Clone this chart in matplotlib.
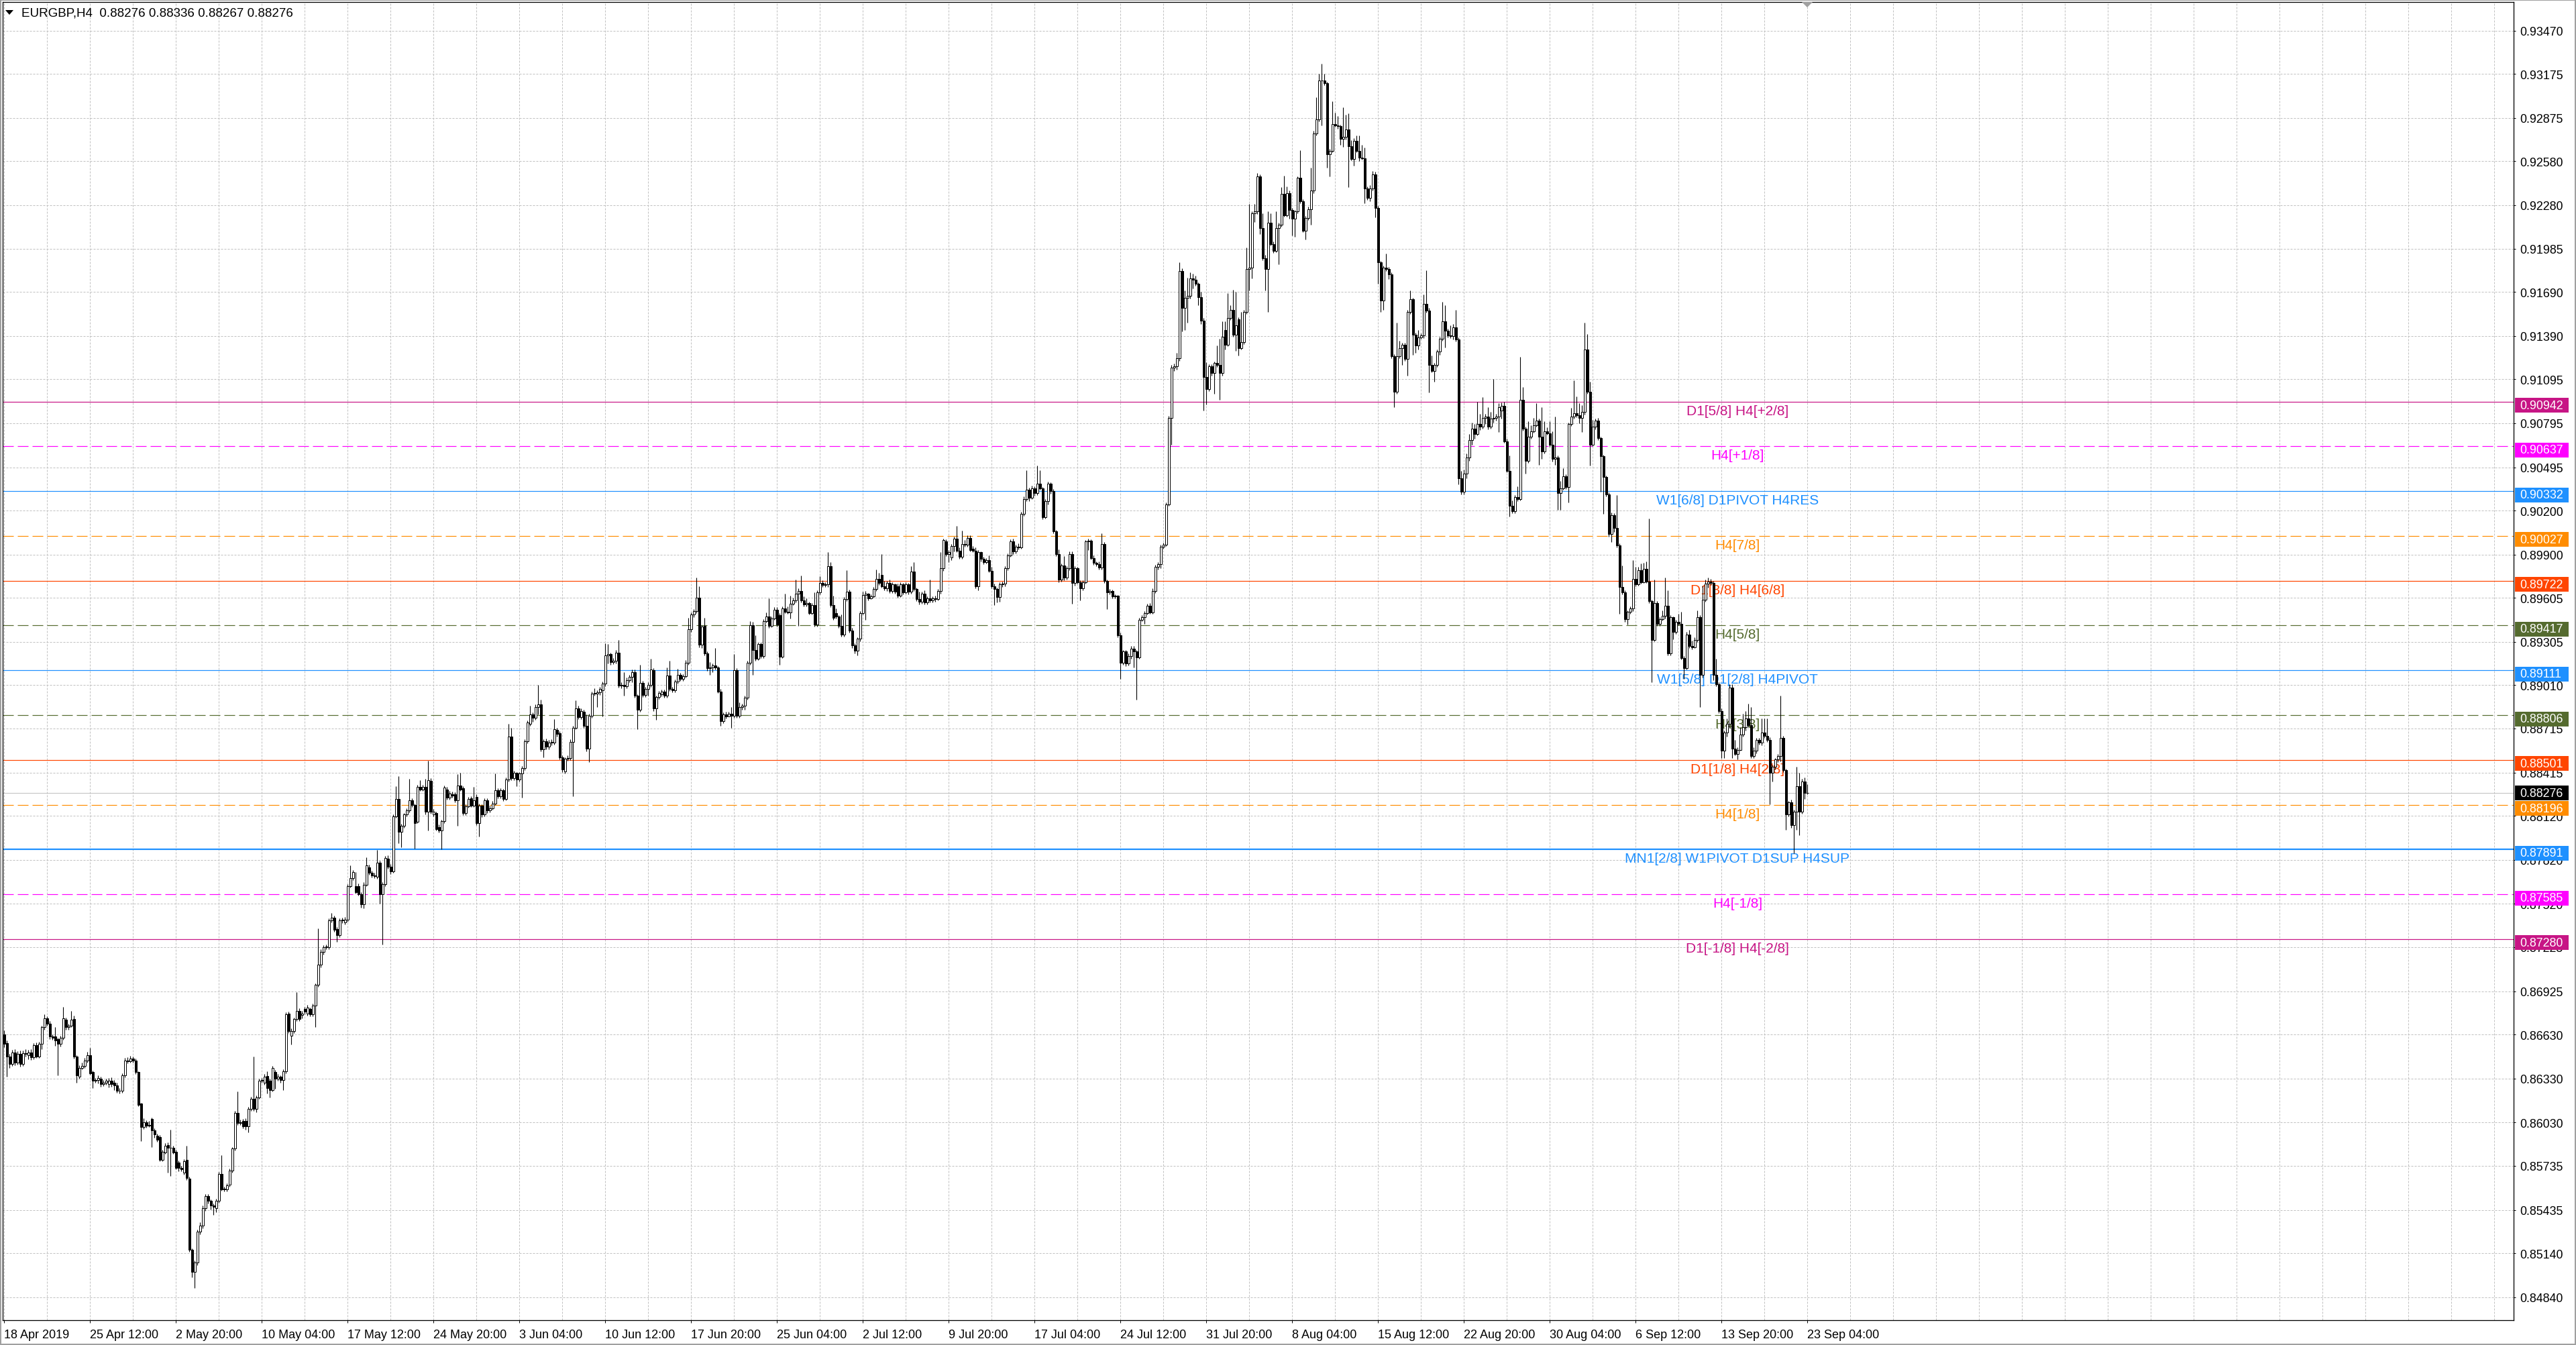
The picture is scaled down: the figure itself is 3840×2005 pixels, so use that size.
import numpy as np
import matplotlib
matplotlib.use("Agg")
import matplotlib.pyplot as plt
from matplotlib import transforms
from matplotlib.patches import Rectangle, Polygon

plt.rcParams['font.family'] = ['Liberation Sans', 'DejaVu Sans']
plt.rcParams['lines.scale_dashes'] = False

W, H, DPI = 3840, 2006, 100
PX = 72 / DPI  # points per pixel

symbol = "EURGBP,H4"

# H4 bars, prices in 1e-5 units
opens = [
    86629, 86570, 86479, 86428, 86509, 86441, 86499, 86428, 86504, 86490,
    86509, 86474, 86559, 86479, 86566, 86679, 86742, 86704, 86616, 86616,
    86599, 86566, 86609, 86729, 86679, 86692, 86734, 86479, 86341, 86404,
    86416, 86454, 86491, 86373, 86316, 86320, 86328, 86291, 86303, 86291,
    86316, 86303, 86283, 86248, 86245, 86353, 86454, 86449, 86466, 86454,
    86373, 86158, 85998, 86033, 86008, 86053, 85978, 85940, 85933, 85777,
    85827, 85878, 85857, 85857, 85832, 85757, 85722, 85690, 85777, 85647,
    85164, 85013, 85076, 85289, 85327, 85447, 85527, 85497, 85464, 85447,
    85497, 85682, 85577, 85577, 85607, 85702, 85852, 86098, 86028, 86040,
    86040, 86003, 86123, 86191, 86123, 86203, 86316, 86303, 86348, 86316,
    86253, 86373, 86328, 86341, 86321, 86378, 86774, 86620, 86654, 86734,
    86792, 86762, 86804, 86774, 86804, 86767, 86829, 86967, 87105, 87193,
    87225, 87223, 87406, 87426, 87350, 87305, 87406, 87393, 87413, 87643,
    87694, 87640, 87643, 87586, 87517, 87652, 87767, 87733, 87713, 87704,
    87800, 87588, 87655, 87829, 87775, 87742, 88118, 88234, 88012, 88050,
    88128, 88157, 88224, 88195, 88080, 88315, 88301, 88315, 88147, 88359,
    88128, 88140, 88045, 88022, 88083, 88301, 88243, 88269, 88269, 88224,
    88326, 88307, 88141, 88186, 88238, 88191, 88249, 88070, 88190, 88128,
    88224, 88157, 88172, 88205, 88296, 88253, 88296, 88234, 88369, 88658,
    88378, 88411, 88369, 88407, 88446, 88629, 88745, 88812, 88790, 88860,
    88880, 88571, 88629, 88590, 88619, 88619, 88706, 88681, 88519, 88423,
    88508, 88513, 88623, 88720, 88851, 88793, 88828, 88735, 88577, 88802,
    88953, 88953, 88960, 88976, 89020, 89213, 89221, 89169, 89175, 89232,
    89009, 89014, 89001, 89043, 89067, 89101, 88937, 88841, 89024, 88943,
    88986, 89014, 89111, 88851, 88928, 88947, 88966, 88937, 89078, 88986,
    88976, 89034, 89082, 89053, 89072, 89165, 89390, 89491, 89516, 89606,
    89284, 89414, 89227, 89124, 89130, 89144, 89130, 88966, 88764, 88812,
    88797, 88815, 88802, 89111, 88802, 88860, 88870, 88924, 89163, 89420,
    89250, 89188, 89289, 89210, 89446, 89479, 89413, 89463, 89523, 89485,
    89206, 89533, 89512, 89507, 89566, 89588, 89632, 89654, 89588, 89560,
    89570, 89501, 89555, 89424, 89643, 89708, 89691, 89697, 89822, 89555,
    89500, 89479, 89413, 89354, 89599, 89647, 89381, 89282, 89245, 89326,
    89501, 89625, 89632, 89603, 89616, 89665, 89734, 89763, 89686, 89669,
    89708, 89654, 89697, 89686, 89621, 89697, 89643, 89697, 89647, 89785,
    89665, 89599, 89577, 89632, 89573, 89603, 89588, 89600, 89599, 89654,
    89806, 89992, 89905, 89880, 89959, 90010, 89926, 89883, 89970, 89966,
    90014, 89940, 89925, 89686, 89916, 89870, 89850, 89861, 89791, 89686,
    89665, 89610, 89697, 89700, 89806, 89896, 89992, 89922, 89953, 89948,
    90178, 90280, 90341, 90287, 90352, 90320, 90385, 90352, 90156, 90265,
    90381, 90331, 90058, 89905, 89730, 89826, 89741, 89806, 89905, 89708,
    89806, 89712, 89669, 89712, 89988, 89995, 89878, 89843, 89835, 89813,
    89970, 89719, 89643, 89654, 89616, 89618, 89348, 89162, 89239, 89158,
    89210, 89260, 89239, 89201, 89457, 89472, 89501, 89551, 89507, 89654,
    89817, 89835, 89953, 89966, 90243, 90833, 91176, 91182, 91237, 91831,
    91579, 91650, 91661, 91780, 91772, 91743, 91655, 91495, 91111, 91029,
    91181, 91135, 91204, 91192, 91135, 91429, 91331, 91514, 91568, 91397,
    91503, 91307, 91347, 91552, 91846, 91857, 92226, 92238, 92478, 92123,
    91919, 91846, 92161, 92017, 91971, 92123, 92148, 92357, 92213, 92364,
    92249, 92189, 92238, 92466, 92308, 92107, 92193, 92254, 92380, 92769,
    92863, 93128, 93131, 93112, 92625, 92651, 92834, 92826, 92818, 92733,
    92744, 92798, 92684, 92597, 92720, 92651, 92605, 92600, 92396, 92331,
    92393, 92488, 92262, 91890, 91633, 91857, 91846, 91808, 91253, 91008,
    91253, 91307, 91331, 91233, 91552, 91642, 91397, 91323, 91380, 91393,
    91609, 91563, 91192, 91151, 91192, 91282, 91372, 91487, 91426, 91393,
    91388, 91446, 91364, 90420, 90330, 90450, 90560, 90680, 90760, 90720,
    90792, 90770, 90833, 90841, 90770, 90825, 90833, 90841, 90880, 90912,
    90672, 90471, 90231, 90194, 90293, 90280, 90954, 90758, 90537, 90702,
    90741, 90783, 90814, 90702, 90604, 90741, 90728, 90648, 90550, 90560,
    90317, 90349, 90432, 90359, 90790, 90839, 90863, 90850, 90832, 90873,
    91297, 91010, 90648, 90770, 90814, 90692, 90569, 90427, 90310, 90040,
    90170, 90080, 89962, 89679, 89643, 89459, 89509, 89533, 89736, 89697,
    89795, 89712, 89802, 89717, 89582, 89320, 89570, 89427, 89459, 89484,
    89550, 89227, 89472, 89373, 89442, 89430, 89197, 89128, 89354, 89276,
    89270, 89320, 89472, 89080, 89594, 89704, 89717, 89708, 89080, 89018,
    88834, 88565, 88687, 88749, 88994, 88577, 88541, 88570, 88675, 88724,
    88785, 88736, 88528, 88565, 88638, 88619, 88687, 88663, 88638, 88413,
    88455, 88504, 88528, 88651, 88431, 88129, 88210, 88055, 88148, 88320,
    88148, 88356, 88276,
]
highs = [
    86660, 86590, 86500, 86525, 86530, 86515, 86520, 86520, 86530, 86525,
    86530, 86570, 86575, 86580, 86690, 86767, 86755, 86720, 86630, 86679,
    86610, 86620, 86817, 86745, 86705, 86792, 86760, 86490, 86420, 86440,
    86470, 86510, 86541, 86385, 86335, 86350, 86345, 86320, 86330, 86335,
    86340, 86320, 86300, 86265, 86365, 86470, 86475, 86485, 86480, 86465,
    86380, 86165, 86060, 86045, 86040, 86065, 85990, 85955, 85945, 85845,
    85890, 85895, 85983, 85870, 85845, 85770, 85735, 85780, 85872, 85660,
    85175, 85090, 85300, 85350, 85465, 85545, 85545, 85505, 85480, 85510,
    85695, 85810, 85595, 85615, 85715, 85865, 86110, 86241, 86050, 86055,
    86060, 86135, 86205, 86479, 86215, 86330, 86335, 86360, 86380, 86330,
    86415, 86390, 86360, 86350, 86395, 86780, 86785, 86670, 86745, 86917,
    86810, 86790, 86820, 86830, 86815, 86840, 86980, 87355, 87210, 87240,
    87245, 87420, 87460, 87440, 87360, 87420, 87425, 87430, 87655, 87781,
    87750, 87735, 87660, 87600, 87670, 87839, 87785, 87745, 87730, 87887,
    87815, 87670, 87845, 87850, 87790, 88130, 88321, 88392, 88065, 88140,
    88170, 88373, 88240, 88205, 88330, 88365, 88330, 88370, 88494, 88375,
    88165, 88150, 88060, 88095, 88325, 88315, 88290, 88285, 88280, 88403,
    88411, 88320, 88200, 88250, 88255, 88315, 88265, 88205, 88200, 88240,
    88240, 88190, 88220, 88407, 88310, 88310, 88305, 88380, 88745, 88720,
    88425, 88420, 88420, 88460, 88640, 88770, 88870, 88825, 88880, 89014,
    88910, 88640, 88645, 88635, 88640, 88777, 88720, 88695, 88530, 88520,
    88530, 88640, 88735, 88905, 88870, 88850, 88845, 88810, 88815, 88965,
    88990, 88975, 89000, 89035, 89294, 89290, 89230, 89195, 89250, 89317,
    89030, 89097, 89060, 89080, 89115, 89115, 88950, 89149, 89040, 89000,
    89030, 89188, 89125, 88940, 88970, 88980, 88980, 89130, 89175, 89000,
    89050, 89121, 89095, 89085, 89180, 89468, 89505, 89530, 89741, 89683,
    89420, 89468, 89240, 89169, 89160, 89265, 89140, 88985, 88825, 88830,
    88830, 88860, 89221, 89125, 88895, 88885, 88940, 89175, 89448, 89440,
    89348, 89300, 89300, 89460, 89507, 89603, 89480, 89540, 89540, 89500,
    89545, 89632, 89545, 89621, 89605, 89730, 89670, 89756, 89615, 89600,
    89580, 89570, 89643, 89655, 89752, 89725, 89710, 89916, 89850, 89620,
    89535, 89485, 89490, 89610, 89795, 89660, 89400, 89295, 89335, 89515,
    89645, 89650, 89640, 89630, 89680, 89800, 89775, 89901, 89720, 89720,
    89730, 89710, 89700, 89700, 89710, 89705, 89710, 89705, 89822, 89850,
    89675, 89645, 89645, 89655, 89615, 89730, 89615, 89620, 89665, 89916,
    90010, 90005, 89930, 89970, 90020, 90097, 89950, 90062, 90000, 90030,
    90030, 89960, 89950, 89930, 89920, 89885, 89875, 89895, 89815, 89700,
    89675, 89710, 89715, 89820, 89910, 90005, 90010, 89965, 89975, 90190,
    90295, 90473, 90355, 90370, 90365, 90505, 90473, 90360, 90280, 90395,
    90390, 90345, 90070, 89935, 89840, 89890, 89820, 89920, 89920, 89820,
    89815, 89725, 89725, 90000, 90010, 90005, 89895, 89855, 89855, 90047,
    89985, 89730, 89665, 89660, 89630, 89625, 89370, 89250, 89250, 89225,
    89275, 89275, 89250, 89470, 89485, 89515, 89565, 89570, 89670, 89830,
    89850, 89965, 89980, 90255, 90845, 91190, 91200, 91276, 91892, 91850,
    91699, 91785, 91821, 91813, 91800, 91755, 91690, 91510, 91209, 91195,
    91195, 91215, 91323, 91372, 91487, 91491, 91682, 91601, 91706, 91690,
    91515, 91552, 91565, 91993, 92287, 92240, 92287, 92499, 92490, 92226,
    91940, 92238, 92226, 92035, 92238, 92160, 92401, 92483, 92406, 92380,
    92260, 92250, 92478, 92654, 92320, 92205, 92270, 92537, 92785, 93014,
    93174, 93246, 93174, 93120, 92665, 92989, 92912, 92886, 92830, 92945,
    92896, 92907, 92723, 92735, 92756, 92756, 92690, 92674, 92410, 92417,
    92511, 92507, 92275, 91900, 91870, 91949, 91860, 91825, 91265, 91478,
    91356, 91345, 91345, 91565, 91699, 91650, 91410, 91429, 91405, 91674,
    91837, 91580, 91258, 91205, 91295, 91385, 91622, 91601, 91440, 91462,
    91470, 91568, 91380, 90470, 90480, 90590, 90720, 90800, 90790, 90942,
    90860, 90972, 90860, 90906, 90874, 91094, 90860, 90930, 90937, 90942,
    90690, 90574, 90268, 90305, 90366, 91248, 91040, 90770, 90807, 90783,
    90832, 90930, 90825, 90905, 90807, 90765, 90807, 90741, 90839, 90575,
    90403, 90488, 90445, 90800, 90898, 91089, 90979, 90930, 90917, 91481,
    91403, 91077, 90819, 90825, 90830, 90705, 90580, 90440, 90322, 90185,
    90180, 90305, 89975, 89827, 89655, 89520, 89545, 89864, 89815, 89815,
    89839, 89844, 89851, 90145, 89594, 89729, 89582, 89472, 89521, 89741,
    89655, 89485, 89480, 89455, 89496, 89509, 89210, 89373, 89386, 89312,
    89335, 89521, 89485, 89687, 89729, 89741, 89736, 89720, 89190, 89030,
    88850, 88700, 88785, 89018, 89018, 88638, 88585, 88724, 88815, 88834,
    88882, 88859, 88589, 88651, 88650, 88785, 88785, 88785, 88655, 88470,
    88516, 88540, 88937, 88663, 88440, 88222, 88230, 88160, 88455, 88413,
    88374, 88381, 88336,
]
lows = [
    86545, 86341, 86400, 86415, 86420, 86425, 86410, 86415, 86480, 86460,
    86455, 86460, 86470, 86470, 86530, 86665, 86690, 86600, 86595, 86554,
    86353, 86550, 86595, 86665, 86665, 86680, 86465, 86303, 86330, 86395,
    86400, 86440, 86355, 86266, 86300, 86295, 86275, 86280, 86290, 86270,
    86275, 86250, 86235, 86230, 86235, 86340, 86435, 86440, 86440, 86360,
    86140, 85903, 85985, 85995, 85998, 85865, 85925, 85900, 85765, 85765,
    85815, 85690, 85665, 85815, 85710, 85700, 85700, 85675, 85640, 85150,
    84976, 84901, 85060, 85270, 85310, 85430, 85480, 85440, 85400, 85420,
    85485, 85565, 85560, 85560, 85595, 85690, 85840, 86015, 86015, 85990,
    85980, 85965, 86110, 86110, 86100, 86190, 86300, 86290, 86230, 86200,
    86240, 86260, 86315, 86300, 86250, 86365, 86640, 86560, 86640, 86720,
    86720, 86740, 86770, 86760, 86755, 86755, 86679, 86955, 87090, 87175,
    87210, 87210, 87395, 87330, 87260, 87295, 87390, 87380, 87400, 87630,
    87680, 87590, 87575, 87495, 87492, 87640, 87720, 87700, 87695, 87690,
    87521, 87241, 87640, 87760, 87725, 87730, 88105, 87935, 87906, 88040,
    88115, 88145, 88180, 87897, 88070, 88290, 88290, 88130, 88022, 88135,
    88115, 88020, 88005, 87891, 88070, 88230, 88230, 88245, 88210, 88050,
    88290, 88125, 88125, 88175, 88180, 88180, 88055, 87979, 88110, 88115,
    88140, 88145, 88160, 88195, 88240, 88240, 88220, 88225, 88355, 88365,
    88365, 88320, 88355, 88243, 88430, 88615, 88735, 88760, 88775, 88810,
    88560, 88519, 88575, 88575, 88600, 88605, 88660, 88505, 88420, 88410,
    88495, 88500, 88253, 88710, 88780, 88780, 88720, 88560, 88488, 88790,
    88940, 88860, 88945, 88797, 89005, 89160, 89150, 89155, 89160, 88995,
    88990, 88937, 88990, 89030, 89030, 88925, 88712, 88830, 88930, 88930,
    88940, 89000, 88835, 88774, 88915, 88935, 88925, 88925, 88970, 88960,
    88960, 89020, 89040, 89040, 89060, 89150, 89375, 89475, 89500, 89270,
    89265, 89215, 89110, 89082, 89100, 89115, 88955, 88731, 88750, 88785,
    88795, 88720, 88790, 88790, 88790, 88845, 88845, 88910, 89150, 89079,
    89175, 89180, 89195, 89195, 89435, 89400, 89405, 89455, 89410, 89151,
    89195, 89500, 89495, 89465, 89555, 89575, 89413, 89575, 89545, 89545,
    89490, 89490, 89410, 89410, 89630, 89680, 89680, 89680, 89540, 89455,
    89465, 89400, 89340, 89340, 89585, 89370, 89265, 89225, 89215, 89310,
    89490, 89457, 89590, 89595, 89605, 89650, 89695, 89675, 89655, 89650,
    89640, 89640, 89635, 89605, 89610, 89630, 89635, 89630, 89635, 89650,
    89585, 89560, 89565, 89560, 89560, 89575, 89575, 89580, 89590, 89635,
    89790, 89890, 89850, 89860, 89920, 89915, 89870, 89870, 89955, 89955,
    89920, 89915, 89670, 89655, 89855, 89835, 89840, 89780, 89670, 89555,
    89575, 89580, 89680, 89685, 89795, 89885, 89905, 89910, 89935, 89940,
    90165, 90265, 90265, 90280, 90300, 90305, 90340, 90140, 90145, 90240,
    90315, 90045, 89890, 89710, 89715, 89725, 89730, 89795, 89566, 89690,
    89700, 89590, 89655, 89700, 89930, 89865, 89830, 89820, 89800, 89800,
    89705, 89529, 89630, 89600, 89600, 89335, 89053, 89150, 89140, 89145,
    89190, 89129, 88911, 89190, 89445, 89430, 89490, 89495, 89495, 89640,
    89800, 89805, 89940, 89960, 90230, 90647, 91150, 91160, 91220, 91421,
    91429, 91478, 91645, 91715, 91730, 91600, 91470, 90882, 90923, 91015,
    91120, 90996, 91180, 90955, 91120, 91298, 91320, 91500, 91385, 91290,
    91258, 91295, 91335, 91540, 91699, 91780, 92167, 92221, 92083, 91905,
    91699, 91552, 92005, 91955, 91960, 91878, 92135, 92200, 92200, 92190,
    92074, 92066, 92225, 92295, 92096, 92047, 92180, 92148, 92360, 92755,
    92850, 92826, 93100, 92537, 92478, 92640, 92815, 92800, 92690, 92679,
    92730, 92401, 92585, 92548, 92640, 92581, 92590, 92292, 92315, 92308,
    92380, 92197, 91743, 91552, 91568, 91830, 91775, 91240, 90903, 90995,
    91240, 91192, 91220, 91119, 91540, 91262, 91274, 91295, 91370, 91375,
    91550, 91004, 91140, 91078, 91180, 91262, 91355, 91311, 91380, 91375,
    91364, 91350, 90380, 90310, 90310, 90420, 90540, 90650, 90690, 90710,
    90750, 90760, 90790, 90755, 90760, 90800, 90815, 90734, 90825, 90660,
    90460, 90158, 90180, 90180, 90265, 90270, 90745, 90452, 90525, 90690,
    90730, 90770, 90513, 90550, 90590, 90715, 90635, 90535, 90513, 90207,
    90207, 90340, 90345, 90256, 90775, 90825, 90835, 90795, 90734, 90855,
    90995, 90506, 90640, 90755, 90680, 90329, 90177, 90295, 90023, 89986,
    90055, 89950, 89496, 89630, 89440, 89422, 89495, 89515, 89685, 89690,
    89700, 89705, 89705, 89570, 89030, 89310, 89415, 89415, 89450, 89465,
    89215, 89214, 89324, 89360, 89420, 89185, 89055, 89115, 89265, 89255,
    89265, 89305, 88859, 89060, 89580, 89675, 89695, 89043, 89005, 88820,
    88516, 88516, 88660, 88720, 88516, 88530, 88505, 88565, 88660, 88700,
    88725, 88515, 88515, 88545, 88605, 88600, 88650, 88625, 88197, 88356,
    88435, 88485, 88490, 88420, 88025, 88115, 88040, 87866, 88025, 87988,
    88135, 88234, 88267,
]
closes = [
    86566, 86479, 86428, 86509, 86441, 86499, 86428, 86504, 86500, 86509,
    86474, 86559, 86479, 86566, 86679, 86742, 86704, 86616, 86609, 86591,
    86566, 86609, 86742, 86679, 86692, 86729, 86479, 86353, 86404, 86416,
    86454, 86491, 86366, 86316, 86320, 86333, 86291, 86303, 86316, 86316,
    86291, 86283, 86248, 86245, 86353, 86454, 86449, 86466, 86454, 86373,
    86153, 85998, 86033, 86008, 86015, 85978, 85950, 85915, 85777, 85832,
    85872, 85857, 85860, 85827, 85722, 85722, 85714, 85765, 85652, 85164,
    85013, 85076, 85289, 85327, 85447, 85527, 85497, 85464, 85457, 85497,
    85682, 85577, 85580, 85602, 85702, 85852, 86098, 86028, 86033, 86003,
    86003, 86123, 86191, 86123, 86203, 86316, 86318, 86341, 86266, 86253,
    86404, 86328, 86341, 86321, 86378, 86767, 86654, 86654, 86734, 86792,
    86734, 86774, 86784, 86812, 86767, 86829, 86967, 87105, 87193, 87225,
    87228, 87406, 87426, 87343, 87305, 87406, 87410, 87413, 87643, 87694,
    87736, 87601, 87586, 87518, 87652, 87781, 87733, 87713, 87710, 87800,
    87588, 87655, 87833, 87775, 87742, 88118, 88234, 88012, 88050, 88128,
    88157, 88224, 88195, 88070, 88315, 88301, 88315, 88147, 88365, 88147,
    88147, 88031, 88022, 88083, 88311, 88243, 88272, 88257, 88224, 88326,
    88301, 88141, 88186, 88234, 88190, 88224, 88070, 88190, 88128, 88224,
    88157, 88172, 88205, 88296, 88253, 88296, 88234, 88369, 88658, 88378,
    88411, 88369, 88407, 88446, 88629, 88758, 88812, 88790, 88860, 88880,
    88571, 88629, 88590, 88619, 88622, 88712, 88677, 88519, 88436, 88508,
    88513, 88623, 88720, 88851, 88793, 88835, 88735, 88577, 88802, 88953,
    88957, 88960, 88986, 89020, 89213, 89221, 89169, 89178, 89232, 89009,
    89014, 89005, 89043, 89067, 89101, 88937, 88841, 89024, 88943, 88986,
    89014, 89117, 88851, 88928, 88957, 88966, 88940, 89078, 88986, 88976,
    89034, 89082, 89053, 89072, 89165, 89390, 89491, 89516, 89606, 89284,
    89410, 89227, 89124, 89130, 89144, 89130, 88966, 88764, 88812, 88797,
    88815, 88802, 89111, 88802, 88860, 88870, 88924, 89163, 89419, 89250,
    89188, 89289, 89210, 89446, 89479, 89413, 89463, 89523, 89424, 89206,
    89533, 89512, 89507, 89566, 89588, 89632, 89654, 89588, 89560, 89570,
    89501, 89555, 89424, 89643, 89708, 89691, 89697, 89822, 89555, 89468,
    89479, 89413, 89354, 89599, 89647, 89381, 89282, 89245, 89326, 89501,
    89625, 89632, 89603, 89616, 89665, 89734, 89708, 89686, 89669, 89708,
    89654, 89697, 89647, 89621, 89697, 89643, 89697, 89647, 89785, 89665,
    89599, 89577, 89632, 89573, 89603, 89588, 89600, 89599, 89654, 89806,
    89997, 89905, 89916, 89959, 90010, 89926, 89883, 89970, 89966, 90014,
    89931, 89925, 89686, 89916, 89870, 89850, 89861, 89791, 89686, 89665,
    89610, 89697, 89700, 89806, 89896, 89992, 89922, 89953, 89948, 90178,
    90280, 90341, 90287, 90352, 90320, 90385, 90352, 90156, 90265, 90381,
    90331, 90058, 89905, 89730, 89826, 89741, 89806, 89905, 89708, 89806,
    89712, 89669, 89712, 89988, 89995, 89878, 89843, 89835, 89813, 89970,
    89719, 89643, 89654, 89616, 89618, 89348, 89162, 89239, 89158, 89210,
    89260, 89239, 89201, 89457, 89472, 89501, 89551, 89507, 89654, 89817,
    89835, 89953, 89966, 90243, 90833, 91176, 91182, 91237, 91831, 91579,
    91650, 91661, 91780, 91772, 91743, 91655, 91495, 91111, 91029, 91181,
    91135, 91204, 91192, 91135, 91383, 91331, 91514, 91568, 91397, 91462,
    91307, 91347, 91552, 91846, 91857, 92226, 92238, 92478, 92123, 91919,
    91846, 92161, 92017, 91971, 92123, 92148, 92357, 92213, 92364, 92249,
    92189, 92238, 92466, 92308, 92107, 92193, 92254, 92380, 92769, 92863,
    93128, 93131, 93112, 92625, 92651, 92834, 92826, 92818, 92733, 92744,
    92798, 92684, 92597, 92720, 92651, 92605, 92600, 92396, 92331, 92393,
    92488, 92262, 91890, 91633, 91857, 91846, 91808, 91253, 91008, 91253,
    91307, 91331, 91233, 91552, 91642, 91397, 91323, 91380, 91393, 91609,
    91563, 91192, 91151, 91192, 91282, 91372, 91487, 91426, 91393, 91388,
    91446, 91364, 90420, 90330, 90450, 90560, 90680, 90760, 90720, 90792,
    90770, 90833, 90841, 90770, 90825, 90833, 90841, 90905, 90912, 90672,
    90471, 90231, 90194, 90293, 90280, 90954, 90758, 90537, 90702, 90741,
    90783, 90814, 90702, 90604, 90741, 90728, 90648, 90550, 90560, 90317,
    90349, 90432, 90359, 90790, 90839, 90863, 90850, 90832, 90873, 91297,
    91010, 90648, 90770, 90814, 90692, 90569, 90427, 90310, 90040, 90170,
    90080, 89962, 89679, 89643, 89459, 89509, 89533, 89736, 89697, 89795,
    89712, 89802, 89717, 89582, 89320, 89570, 89427, 89459, 89484, 89550,
    89227, 89472, 89373, 89442, 89430, 89197, 89128, 89354, 89276, 89270,
    89320, 89472, 89080, 89594, 89704, 89717, 89708, 89080, 89018, 88834,
    88565, 88687, 88749, 88994, 88577, 88541, 88570, 88675, 88724, 88785,
    88736, 88528, 88565, 88638, 88619, 88687, 88663, 88638, 88413, 88455,
    88504, 88528, 88651, 88431, 88129, 88210, 88055, 88148, 88320, 88148,
    88356, 88276, 88276,
]

date_labels = [
    "18 Apr 2019", "25 Apr 12:00", "2 May 20:00", "10 May 04:00", "17 May 12:00",
    "24 May 20:00", "3 Jun 04:00", "10 Jun 12:00", "17 Jun 20:00", "25 Jun 04:00",
    "2 Jul 12:00", "9 Jul 20:00", "17 Jul 04:00", "24 Jul 12:00", "31 Jul 20:00",
    "8 Aug 04:00", "15 Aug 12:00", "22 Aug 20:00", "30 Aug 04:00", "6 Sep 12:00",
    "13 Sep 20:00", "23 Sep 04:00",
]
price_ticks = [
    0.93470, 0.93175, 0.92875, 0.92580, 0.92280, 0.91985, 0.91690, 0.91390,
    0.91095, 0.90795, 0.90495, 0.90200, 0.89900, 0.89605, 0.89305, 0.89010,
    0.88715, 0.88415, 0.88120, 0.87820, 0.87520, 0.87225, 0.86925, 0.86630,
    0.86330, 0.86030, 0.85735, 0.85435, 0.85140, 0.84840,
]

level_prices = [0.90942, 0.90637, 0.90332, 0.90027, 0.89722, 0.89417, 0.89111,
                0.88806, 0.88501, 0.88196, 0.87891, 0.87585, 0.87280]
level_names = ["D1[5/8] H4[+2/8]", "H4[+1/8]", "W1[6/8] D1PIVOT H4RES", "H4[7/8]",
               "D1[3/8] H4[6/8]", "H4[5/8]", "W1[5/8] D1[2/8] H4PIVOT", "H4[3/8]",
               "D1[1/8] H4[2/8]", "H4[1/8]", "MN1[2/8] W1PIVOT D1SUP H4SUP",
               "H4[-1/8]", "D1[-1/8] H4[-2/8]"]
level_colors = ['#C71585', '#FF00FF', '#1E90FF', '#FF8C00', '#FF4500', '#556B2F', '#1E90FF',
                '#556B2F', '#FF4500', '#FF8C00', '#1E90FF', '#FF00FF', '#C71585']
level_dashed = [False, True, False, True, False, True, False,
                True, False, True, False, True, False]

o = np.array(opens) / 1e5
h = np.array(highs) / 1e5
l = np.array(lows) / 1e5
c = np.array(closes) / 1e5
x = np.arange(len(c))
bid = c[-1]

ymin, ymax = 0.846837, 0.936647
fig = plt.figure(figsize=(W / DPI, H / DPI), dpi=DPI, facecolor='white')
ax = fig.add_axes([4 / W, 37 / H, 3743 / W, 1965 / H])
ax.set_xlim(-0.5, 935.25)
ax.set_ylim(ymin, ymax)
ax.set_axisbelow(True)
ppu = 1965 / (ymax - ymin)  # pixels per price unit

# candles
ax.vlines(x, l, h, colors='black', linewidth=1.1 * PX, zorder=2)
up = c >= o
body = np.maximum(np.abs(c - o), 0.000004)
bottom = np.minimum(o, c)
ax.bar(x[up], body[up], width=0.75, bottom=bottom[up], color='white',
       edgecolor='black', linewidth=1.0 * PX, zorder=3)
ax.bar(x[~up], body[~up], width=0.75, bottom=bottom[~up], color='black',
       edgecolor='black', linewidth=1.0 * PX, zorder=3)

# axes, ticks, grid
ax.set_xticks(np.arange(0, len(c), 32))
ax.set_xticklabels(date_labels, ha='left')
ax.set_xticks(np.arange(16, 936, 16), minor=True)
ax.yaxis.tick_right()
ax.set_yticks(price_ticks)
ax.set_yticklabels([f"{v:.5f}" for v in price_ticks])
ax.tick_params(axis='y', which='major', direction='out', length=3 * PX, width=1 * PX,
               pad=6 * PX, labelsize=12.9, colors='black')
ax.tick_params(axis='x', which='major', direction='out', length=4 * PX, width=1 * PX,
               pad=9 * PX, labelsize=13, colors='black')
ax.tick_params(axis='x', which='minor', length=0)
grid_style = dict(color='#C0C0C0', linestyle=(0, (3 * PX, 2 * PX)), linewidth=1 * PX)
ax.grid(True, axis='x', which='both', **grid_style)
ax.grid(True, axis='y', which='major', **grid_style)
for s in ax.spines.values():
    s.set_color('black')
    s.set_linewidth(1.3 * PX)

# level lines with their names
for p, name, col, dashed in zip(level_prices, level_names, level_colors, level_dashed):
    lw = 2.2 * PX if name.startswith('MN1') else 1.2 * PX
    ls = (0, (16 * PX, 6 * PX)) if dashed else '-'
    ax.axhline(p, color=col, linewidth=lw, linestyle=ls, zorder=1.5)
    ax.annotate(name, xy=(646, p), xytext=(0, -4), textcoords='offset pixels',
                ha='center', va='top', color=col, fontsize=15, zorder=1.8)
ax.axhline(bid, color='#C0C0C0', linewidth=1 * PX, zorder=1.4)

# price boxes on the right scale
trans = transforms.blended_transform_factory(ax.transAxes, ax.transData)
bx0 = (3748.5 - 4) / 3743
bw = 80.5 / 3743
bh = 22 / ppu
tx = (3756 - 4) / 3743
boxes = [(p, col, 5.5) for p, col in zip(level_prices, level_colors)] + [(bid, 'black', 0.0)]
for p, col, off in boxes:
    yc = p - off / ppu
    ax.add_patch(Rectangle((bx0, yc - bh / 2), bw, bh, transform=trans, facecolor=col,
                           edgecolor='none', clip_on=False, zorder=5))
    ax.text(tx, yc, f"{p:.5f}", transform=trans, color='white', fontsize=12.9,
            va='center', ha='left', zorder=6, clip_on=False)

# header
header = symbol + "  " + " ".join(f"{v:.5f}" for v in (o[-1], h[-1], l[-1], c[-1]))
fig.text(32 / W, 1 - 20 / H, header, fontsize=13.5, va='center', ha='left', color='black')
fig.add_artist(Polygon([[8 / W, 1 - 16 / H], [20 / W, 1 - 16 / H], [14 / W, 1 - 23 / H]],
                       closed=True, transform=fig.transFigure, facecolor='black',
                       edgecolor='none'))

# chart shift marker
shift_t = transforms.blended_transform_factory(ax.transData, ax.transAxes)
ax.add_patch(Polygon([[x[-1] - 2, 1.0], [x[-1] + 2, 1.0], [x[-1], 1 - 8 / 1965]],
                     closed=True, transform=shift_t, facecolor='#A0A0A0',
                     edgecolor='none', clip_on=False, zorder=6))

# window frame
fig.add_artist(Rectangle((0, 0), 1, 1, transform=fig.transFigure, fill=False,
                         edgecolor='#A0A0A0', linewidth=4 * PX))

fig.savefig('out.png', dpi=DPI, facecolor='white')
